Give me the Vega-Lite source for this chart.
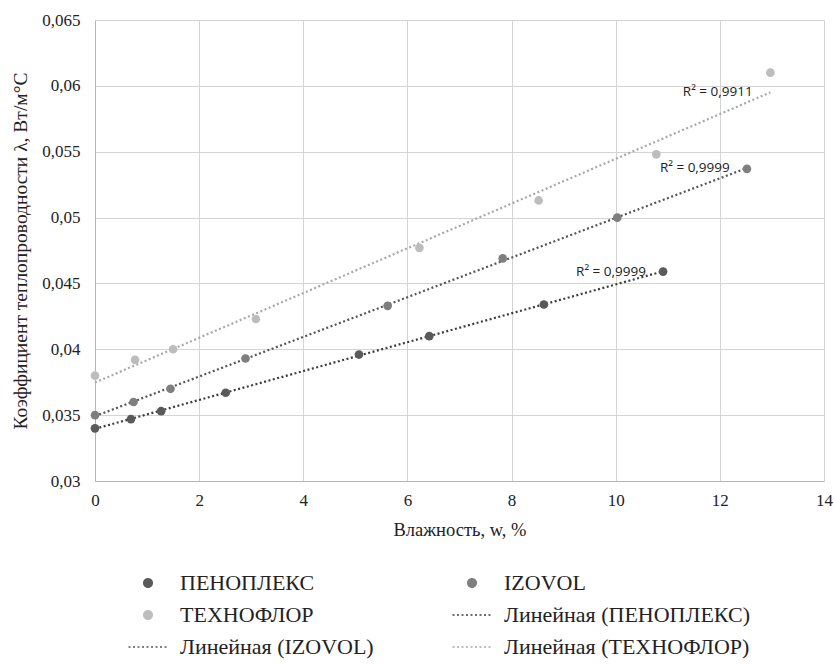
{
  "$schema": "https://vega.github.io/schema/vega-lite/v6.json",
  "autosize": {"type": "none"},
  "padding": {"left": 95, "top": 20, "right": 10, "bottom": 185},
  "width": 729,
  "height": 461,
  "background": "white",
  "config": {
    "view": {"stroke": null},
    "legend": {
      "orient": "none", "legendX": 42, "legendY": 552, "columns": 2, "title": null,
      "labelFont": "Liberation Serif", "labelFontSize": 22, "labelColor": "#222",
      "rowPadding": 10, "columnPadding": 75, "labelOffset": 21, "labelLimit": 400,
      "symbolStrokeWidth": 1.4, "symbolOpacity": 1, "symbolSize": 75
    }
  },
  "datasets": {
    "pts": [
      {"series": "ПЕНОПЛЕКС", "trend": "Линейная (ПЕНОПЛЕКС)", "w": 0, "lambda": 0.0340},
      {"series": "ПЕНОПЛЕКС", "trend": "Линейная (ПЕНОПЛЕКС)", "w": 0.69, "lambda": 0.0347},
      {"series": "ПЕНОПЛЕКС", "trend": "Линейная (ПЕНОПЛЕКС)", "w": 1.27, "lambda": 0.0353},
      {"series": "ПЕНОПЛЕКС", "trend": "Линейная (ПЕНОПЛЕКС)", "w": 2.51, "lambda": 0.0367},
      {"series": "ПЕНОПЛЕКС", "trend": "Линейная (ПЕНОПЛЕКС)", "w": 5.07, "lambda": 0.0396},
      {"series": "ПЕНОПЛЕКС", "trend": "Линейная (ПЕНОПЛЕКС)", "w": 6.42, "lambda": 0.0410},
      {"series": "ПЕНОПЛЕКС", "trend": "Линейная (ПЕНОПЛЕКС)", "w": 8.62, "lambda": 0.0434},
      {"series": "ПЕНОПЛЕКС", "trend": "Линейная (ПЕНОПЛЕКС)", "w": 10.91, "lambda": 0.0459},
      {"series": "IZOVOL", "trend": "Линейная (IZOVOL)", "w": 0, "lambda": 0.0350},
      {"series": "IZOVOL", "trend": "Линейная (IZOVOL)", "w": 0.74, "lambda": 0.0360},
      {"series": "IZOVOL", "trend": "Линейная (IZOVOL)", "w": 1.45, "lambda": 0.0370},
      {"series": "IZOVOL", "trend": "Линейная (IZOVOL)", "w": 2.89, "lambda": 0.0393},
      {"series": "IZOVOL", "trend": "Линейная (IZOVOL)", "w": 5.62, "lambda": 0.0433},
      {"series": "IZOVOL", "trend": "Линейная (IZOVOL)", "w": 7.83, "lambda": 0.0469},
      {"series": "IZOVOL", "trend": "Линейная (IZOVOL)", "w": 10.03, "lambda": 0.0500},
      {"series": "IZOVOL", "trend": "Линейная (IZOVOL)", "w": 12.52, "lambda": 0.0537},
      {"series": "ТЕХНОФЛОР", "trend": "Линейная (ТЕХНОФЛОР)", "w": 0, "lambda": 0.0380},
      {"series": "ТЕХНОФЛОР", "trend": "Линейная (ТЕХНОФЛОР)", "w": 0.77, "lambda": 0.0392},
      {"series": "ТЕХНОФЛОР", "trend": "Линейная (ТЕХНОФЛОР)", "w": 1.50, "lambda": 0.0400},
      {"series": "ТЕХНОФЛОР", "trend": "Линейная (ТЕХНОФЛОР)", "w": 3.09, "lambda": 0.0423},
      {"series": "ТЕХНОФЛОР", "trend": "Линейная (ТЕХНОФЛОР)", "w": 6.23, "lambda": 0.0477},
      {"series": "ТЕХНОФЛОР", "trend": "Линейная (ТЕХНОФЛОР)", "w": 8.52, "lambda": 0.0513},
      {"series": "ТЕХНОФЛОР", "trend": "Линейная (ТЕХНОФЛОР)", "w": 10.78, "lambda": 0.0548},
      {"series": "ТЕХНОФЛОР", "trend": "Линейная (ТЕХНОФЛОР)", "w": 12.97, "lambda": 0.0610}
    ],
    "labels": [
      {"w": 10.58, "lambda": 0.04587, "text": "R² = 0,9999"},
      {"w": 12.19, "lambda": 0.05376, "text": "R² = 0,9999"},
      {"w": 12.63, "lambda": 0.05953, "text": "R² = 0,9911"}
    ]
  },
  "encoding": {
    "x": {
      "field": "w", "type": "quantitative",
      "scale": {"domain": [0, 14], "nice": false, "zero": false},
      "axis": {
        "title": "Влажность, w, %", "values": [0, 2, 4, 6, 8, 10, 12, 14],
        "grid": true, "gridColor": "#d4d4d4", "gridWidth": 1,
        "domainColor": "#b5b5b5", "domainWidth": 1, "ticks": false,
        "labelFont": "Liberation Serif", "labelFontSize": 17, "labelColor": "#222",
        "labelPadding": 11, "labelFlush": false,
        "titleFont": "Liberation Serif", "titleFontSize": 18.5, "titleFontWeight": "normal",
        "titleColor": "#222", "titlePadding": 12
      }
    },
    "y": {
      "field": "lambda", "type": "quantitative",
      "scale": {"domain": [0.03, 0.065], "nice": false, "zero": false},
      "axis": {
        "title": "Коэффициент теплопроводности λ, Вт/м°С",
        "values": [0.03, 0.035, 0.04, 0.045, 0.05, 0.055, 0.06, 0.065],
        "labelExpr": "replace(format(datum.value, '.3~f'), '.', ',')",
        "grid": true, "gridColor": "#d4d4d4", "gridWidth": 1,
        "domainColor": "#b5b5b5", "domainWidth": 1, "ticks": false,
        "labelFont": "Liberation Serif", "labelFontSize": 17, "labelColor": "#222",
        "labelPadding": 15,
        "titleFont": "Liberation Serif", "titleFontSize": 19.5, "titleFontWeight": "normal",
        "titleColor": "#222", "titlePadding": 11
      }
    }
  },
  "layer": [
    {
      "data": {"name": "pts"},
      "transform": [
        {"regression": "lambda", "on": "w", "groupby": ["trend"]},
        {"calculate": "datum.trend", "as": "series"}
      ],
      "mark": {"type": "line", "strokeWidth": 2.2},
      "encoding": {
        "color": {
          "field": "series", "type": "nominal",
          "scale": {
            "domain": ["ПЕНОПЛЕКС", "ТЕХНОФЛОР", "Линейная (IZOVOL)", "IZOVOL", "Линейная (ПЕНОПЛЕКС)", "Линейная (ТЕХНОФЛОР)"],
            "range": ["#5a5a5a", "#bdbdbd", "#555555", "#7f7f7f", "#3c3c3c", "#a8a8a8"]
          },
          "legend": {
            "orient": "none", "legendX": 42, "legendY": 552, "columns": 2, "title": null,
            "labelFont": "Liberation Serif", "labelFontSize": 22, "labelColor": "#222",
            "rowPadding": 10, "columnPadding": 75, "labelOffset": 21, "labelLimit": 400,
            "symbolStrokeWidth": 1.4, "symbolOpacity": 1, "symbolSize": 75
          }
        },
        "strokeDash": {
          "field": "series", "type": "nominal",
          "scale": {
            "domain": ["ПЕНОПЛЕКС", "ТЕХНОФЛОР", "Линейная (IZOVOL)", "IZOVOL", "Линейная (ПЕНОПЛЕКС)", "Линейная (ТЕХНОФЛОР)"],
            "range": [[1, 0], [1, 0], [2, 2.5], [1, 0], [2, 2.5], [2, 2.5]]
          },
          "legend": {
            "orient": "none", "legendX": 42, "legendY": 552, "columns": 2, "title": null,
            "labelFont": "Liberation Serif", "labelFontSize": 22, "labelColor": "#222",
            "rowPadding": 10, "columnPadding": 75, "labelOffset": 21, "labelLimit": 400,
            "symbolStrokeWidth": 1.4, "symbolOpacity": 1, "symbolSize": 75
          }
        }
      }
    },
    {
      "data": {"name": "pts"},
      "mark": {"type": "point", "filled": true, "opacity": 1, "size": 75},
      "encoding": {
        "color": {"field": "series", "type": "nominal"},
        "shape": {
          "field": "series", "type": "nominal",
          "scale": {
            "domain": ["ПЕНОПЛЕКС", "ТЕХНОФЛОР", "Линейная (IZOVOL)", "IZOVOL", "Линейная (ПЕНОПЛЕКС)", "Линейная (ТЕХНОФЛОР)"],
            "range": ["circle", "circle", "M-4.5,0H4.5", "circle", "M-4.5,0H4.5", "M-4.5,0H4.5"]
          },
          "legend": {
            "orient": "none", "legendX": 42, "legendY": 552, "columns": 2, "title": null,
            "labelFont": "Liberation Serif", "labelFontSize": 22, "labelColor": "#222",
            "rowPadding": 10, "columnPadding": 75, "labelOffset": 21, "labelLimit": 400,
            "symbolStrokeWidth": 1.4, "symbolOpacity": 1, "symbolSize": 75
          }
        }
      }
    },
    {
      "data": {"name": "labels"},
      "mark": {"type": "text", "align": "right", "baseline": "middle", "font": "Open Sans", "fontSize": 13.5, "color": "#222"},
      "encoding": {"text": {"field": "text"}}
    }
  ]
}
